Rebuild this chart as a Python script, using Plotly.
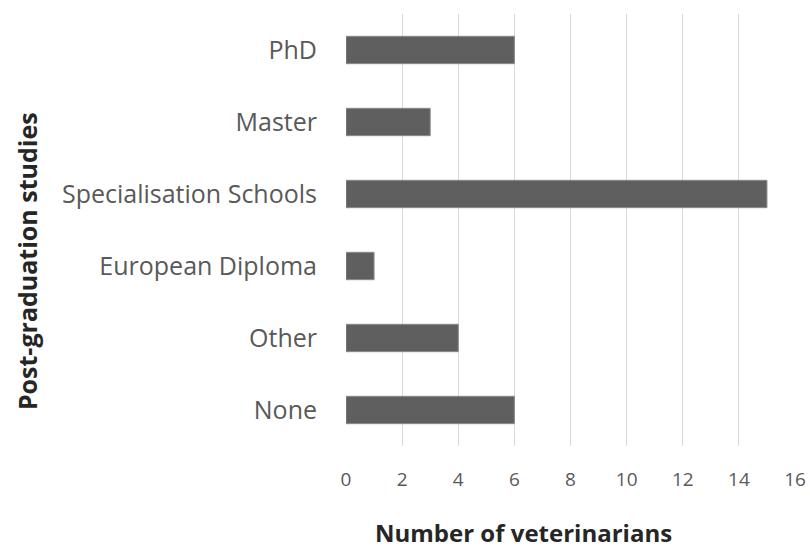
import plotly.graph_objects as go

categories = ["None", "Other", "European Diploma", "Specialisation Schools", "Master", "PhD"]
values = [6, 4, 1, 15, 3, 6]
x_ticks = [0, 2, 4, 6, 8, 10, 12, 14, 16]

fig = go.Figure(go.Bar(
    y=categories, x=values, orientation="h",
    marker=dict(color="#5f5f5f", line=dict(color="#8a8a8a", width=1)),
))

font = "Open Sans, Liberation Sans, sans-serif"
fig.update_layout(
    width=810, height=550,
    margin=dict(l=346, r=15, t=14, b=104),
    plot_bgcolor="white", paper_bgcolor="white",
    bargap=0.62, showlegend=False,
    font=dict(family=font, color="#595959"),
    xaxis=dict(
        range=[0, 16], tickvals=x_ticks, showgrid=True, gridcolor="#d9d9d9", gridwidth=1,
        zeroline=False, showline=False, ticks="", ticklabelstandoff=20, automargin=False,
        tickfont=dict(size=19, color="#595959"),
    ),
    yaxis=dict(
        showgrid=False, zeroline=False, showline=False, ticks="", ticklabelstandoff=28, automargin=False,
        tickfont=dict(size=25, color="#595959"),
    ),
    annotations=[
        dict(text="<b>Number of veterinarians</b>", xref="paper", yref="paper",
             x=0.3964, y=-0.201, xanchor="center", yanchor="middle", showarrow=False,
             font=dict(size=24, color="#262626")),
        dict(text="<b>Post-graduation studies</b>", xref="paper", yref="paper",
             x=-0.7105, y=0.428, xanchor="center", yanchor="middle", showarrow=False,
             textangle=-90, font=dict(size=25, color="#262626")),
    ],
)
fig.write_html(
    "out.html",
    config={"displayModeBar": False},
    post_script="document.body.style.margin='0';document.body.style.overflow='hidden';",
)
